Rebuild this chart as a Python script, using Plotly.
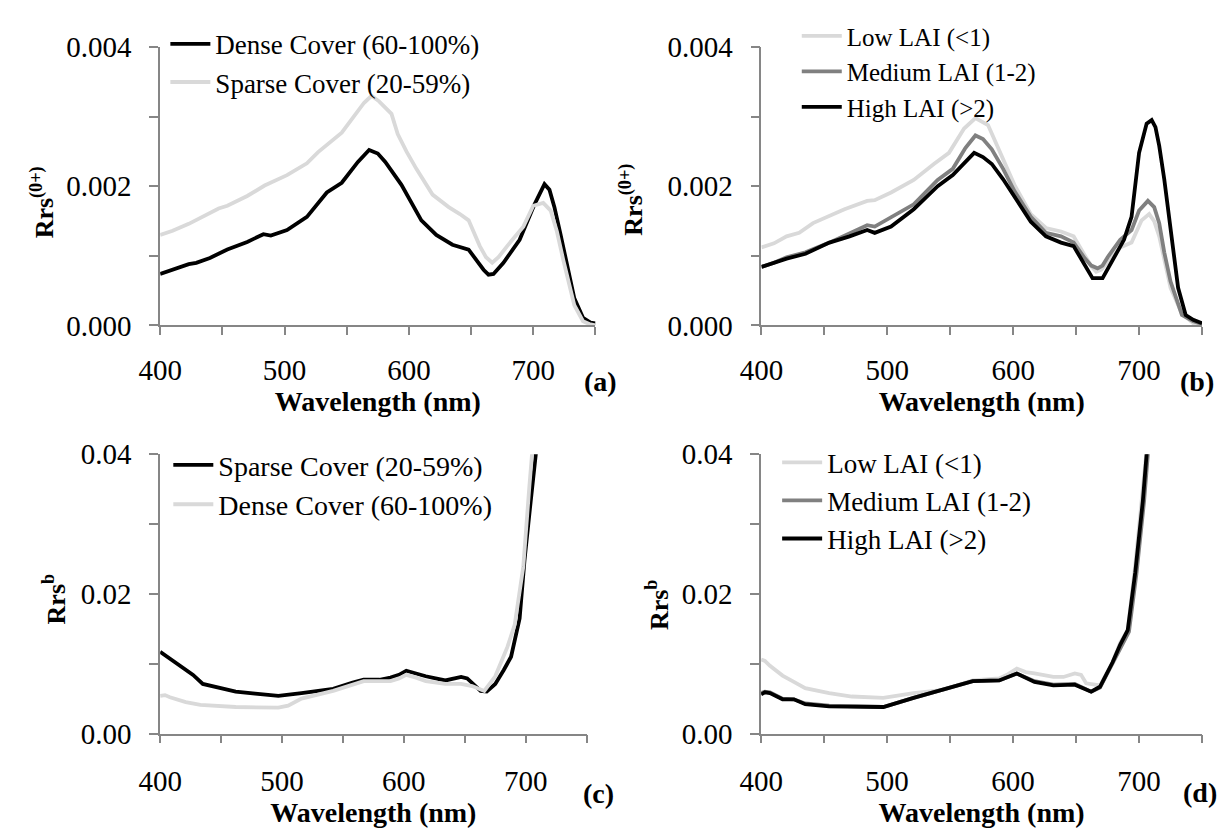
import plotly.graph_objects as go

# ---------------- data ----------------
# (a) above-water reflectance by vegetation cover (units of 1e-3 sr^-1)
wl_a_dense = [400, 410, 423, 429, 440, 454, 470, 483, 489, 502, 518, 534, 546, 559, 568, 575, 581, 594,
              610, 622, 635, 648, 654, 660, 664, 668, 676, 689, 701, 709, 713, 717, 722, 727, 733, 740, 746, 750]
rrs_a_dense = [0.74, 0.80, 0.88, 0.90, 0.97, 1.09, 1.20, 1.31, 1.29, 1.37, 1.56, 1.91, 2.05, 2.35, 2.52, 2.47, 2.35, 2.02,
               1.51, 1.30, 1.16, 1.09, 0.95, 0.80, 0.73, 0.74, 0.90, 1.23, 1.74, 2.03, 1.95, 1.70, 1.30, 0.86, 0.39, 0.11, 0.04, 0.03]
wl_a_sparse = [400, 410, 423, 440, 447, 454, 470, 484, 502, 518, 527, 546, 556, 564, 570, 576, 586, 591, 598, 606,
               619, 632, 641, 648, 657, 662, 667, 672, 679, 692, 700, 708, 714, 719, 724, 733, 740, 745, 750]
rrs_a_sparse = [1.30, 1.36, 1.46, 1.62, 1.68, 1.72, 1.86, 2.01, 2.16, 2.33, 2.49, 2.77, 3.00, 3.20, 3.30, 3.22, 3.04, 2.75, 2.50, 2.25,
                1.88, 1.70, 1.60, 1.51, 1.14, 0.98, 0.90, 0.98, 1.14, 1.42, 1.72, 1.76, 1.65, 1.35, 0.95, 0.29, 0.06, 0.02, 0.0]

# (b) above-water reflectance by LAI class (units of 1e-3)
wl_b_low = [400, 410, 420, 430, 441, 454, 466, 484, 490, 503, 521, 537, 549, 561, 570, 580, 592, 601, 614,
            626, 638, 648, 657, 662, 666, 670, 675, 685, 694, 702, 708, 712, 716, 720, 725, 734, 743, 750]
rrs_b_low = [1.12, 1.18, 1.28, 1.33, 1.47, 1.57, 1.67, 1.79, 1.80, 1.91, 2.09, 2.32, 2.48, 2.83, 2.98, 2.88, 2.39, 2.02, 1.60,
             1.40, 1.35, 1.28, 1.00, 0.85, 0.77, 0.80, 0.91, 1.12, 1.19, 1.51, 1.60, 1.50, 1.28, 0.95, 0.54, 0.17, 0.03, 0.0]
wl_b_med = [400, 410, 420, 435, 454, 470, 484, 490, 503, 521, 540, 552, 562, 570, 576, 583, 592, 601, 614,
            626, 638, 648, 657, 662, 667, 671, 675, 685, 694, 700, 707, 712, 716, 720, 725, 734, 743, 750]
rrs_b_med = [0.84, 0.90, 0.98, 1.05, 1.19, 1.32, 1.44, 1.42, 1.56, 1.74, 2.09, 2.25, 2.55, 2.73, 2.68, 2.53, 2.25, 1.93, 1.56,
             1.33, 1.28, 1.19, 0.96, 0.86, 0.82, 0.86, 0.98, 1.23, 1.37, 1.65, 1.79, 1.70, 1.47, 1.05, 0.63, 0.15, 0.06, 0.02]
wl_b_high = [400, 410, 420, 435, 454, 470, 484, 490, 503, 521, 540, 552, 562, 569, 576, 583, 592, 601, 614,
             626, 638, 648, 657, 663, 671, 678, 688, 694, 700, 706, 710, 713, 716, 720, 725, 731, 737, 743, 750]
rrs_b_high = [0.84, 0.90, 0.96, 1.03, 1.19, 1.28, 1.37, 1.33, 1.42, 1.67, 2.00, 2.16, 2.35, 2.48, 2.42, 2.32, 2.10, 1.84, 1.49,
              1.28, 1.19, 1.14, 0.86, 0.68, 0.68, 0.91, 1.23, 1.56, 2.48, 2.90, 2.95, 2.85, 2.58, 2.10, 1.42, 0.54, 0.15, 0.08, 0.03]

# (c) bottom reflectance by vegetation cover (units of 1e-2)
wl_c_sparse = [400, 404, 408, 417, 427, 435, 446, 462, 478, 497, 516, 542, 558, 567, 580, 589, 596, 602, 610, 618,
               634, 641, 647, 652, 656, 663, 668, 675, 682, 688, 695, 699, 704, 708, 712]
rrs_c_sparse = [1.17, 1.12, 1.07, 0.96, 0.84, 0.71, 0.66, 0.60, 0.57, 0.54, 0.58, 0.64, 0.73, 0.77, 0.77, 0.80, 0.84, 0.90, 0.86, 0.82,
                0.76, 0.78, 0.81, 0.79, 0.73, 0.61, 0.60, 0.71, 0.91, 1.10, 1.65, 2.48, 3.31, 4.0, 4.6]
wl_c_dense = [400, 404, 408, 421, 433, 462, 497, 505, 516, 542, 567, 589, 596, 602, 610, 618, 634, 647, 656, 666,
              675, 685, 691, 698, 703, 705, 708]
rrs_c_dense = [0.54, 0.55, 0.52, 0.45, 0.41, 0.38, 0.37, 0.40, 0.50, 0.61, 0.75, 0.75, 0.79, 0.84, 0.80, 0.75, 0.71, 0.71, 0.68, 0.61,
               0.82, 1.24, 1.56, 2.39, 3.54, 4.0, 4.6]

# (d) bottom reflectance by LAI class (units of 1e-2)
wl_d_low = [400, 403, 407, 417, 426, 435, 454, 472, 497, 521, 543, 568, 589, 596, 603, 610, 617, 632, 640, 649,
            654, 658, 669, 679, 685, 691, 697, 702, 706, 709]
rrs_d_low = [1.06, 1.04, 0.97, 0.83, 0.74, 0.65, 0.58, 0.53, 0.51, 0.58, 0.62, 0.76, 0.79, 0.85, 0.93, 0.88, 0.86, 0.81, 0.81, 0.86,
             0.84, 0.72, 0.69, 1.02, 1.30, 1.48, 2.41, 3.33, 4.0, 4.6]
wl_d_med = [400, 403, 407, 417, 426, 435, 454, 472, 497, 521, 543, 568, 589, 603, 617, 632, 649, 655, 662, 669,
            679, 686, 692, 698, 704, 707, 710]
rrs_d_med = [0.58, 0.60, 0.59, 0.50, 0.49, 0.43, 0.40, 0.39, 0.38, 0.51, 0.62, 0.75, 0.76, 0.86, 0.75, 0.70, 0.71, 0.66, 0.60, 0.66,
             1.00, 1.25, 1.46, 2.30, 3.33, 4.0, 4.6]
wl_d_high = [400, 403, 407, 417, 426, 435, 454, 472, 497, 521, 543, 568, 589, 603, 617, 632, 649, 655, 662, 669,
             679, 685, 691, 697, 703, 706, 709]
rrs_d_high = [0.56, 0.59, 0.58, 0.49, 0.49, 0.42, 0.39, 0.39, 0.38, 0.51, 0.62, 0.75, 0.76, 0.86, 0.74, 0.69, 0.70, 0.66, 0.60, 0.67,
              1.02, 1.27, 1.48, 2.31, 3.33, 4.0, 4.6]

X_TITLE = "Wavelength (nm)"
Y_TITLE_TOP = "Rrs<sup>(0+)</sup>"
Y_TITLE_BOT = "Rrs<sup>b</sup>"
PANEL_TAGS = ["(a)", "(b)", "(c)", "(d)"]

# ---------------- styling ----------------
FONT = "Liberation Serif, Times New Roman, serif"
W, H = 1220, 838
LIGHT, MID, DARK = "#d9d9d9", "#808080", "#000000"
LW = 3.8
AXIS_COL = "#868686"


def px_x(p):
    return p / W


def px_y(p):
    return 1 - p / H


fig = go.Figure()


def add_line(x, y, scale, color, name, xa, ya, legend, group):
    fig.add_trace(go.Scatter(
        x=x, y=[v * scale for v in y], mode="lines", name=name,
        line=dict(color=color, width=LW), xaxis=xa, yaxis=ya,
        legend=legend, legendgroup=group, hoverinfo="skip"))


add_line(wl_a_dense, rrs_a_dense, 1e-3, DARK, "Dense Cover (60-100%)", "x", "y", "legend", "a1")
add_line(wl_a_sparse, rrs_a_sparse, 1e-3, LIGHT, "Sparse Cover (20-59%)", "x", "y", "legend", "a2")
add_line(wl_b_low, rrs_b_low, 1e-3, LIGHT, "Low LAI (<1)", "x2", "y2", "legend2", "b1")
add_line(wl_b_med, rrs_b_med, 1e-3, MID, "Medium LAI (1-2)", "x2", "y2", "legend2", "b2")
add_line(wl_b_high, rrs_b_high, 1e-3, DARK, "High LAI (>2)", "x2", "y2", "legend2", "b3")
add_line(wl_c_sparse, rrs_c_sparse, 1e-2, DARK, "Sparse Cover (20-59%)", "x3", "y3", "legend3", "c1")
add_line(wl_c_dense, rrs_c_dense, 1e-2, LIGHT, "Dense Cover (60-100%)", "x3", "y3", "legend3", "c2")
add_line(wl_d_low, rrs_d_low, 1e-2, LIGHT, "Low LAI (<1)", "x4", "y4", "legend4", "d1")
add_line(wl_d_med, rrs_d_med, 1e-2, MID, "Medium LAI (1-2)", "x4", "y4", "legend4", "d2")
add_line(wl_d_high, rrs_d_high, 1e-2, DARK, "High LAI (>2)", "x4", "y4", "legend4", "d3")

TICKFONT = dict(family=FONT, size=29, color="black")
TICKSTYLE = dict(ticks="outside", tickwidth=1.5, tickcolor=AXIS_COL)
BOLD28 = dict(family=FONT, size=28, color="black", weight="bold")
BOLD26 = dict(family=FONT, size=26, color="black", weight="bold")


def xaxis(domain, anchor, label_gap, title_gap):
    return dict(domain=domain, anchor=anchor, range=[400, 750], tick0=400, dtick=100,
                ticklen=8, **TICKSTYLE,
                minor=dict(dtick=50, ticklen=8, **TICKSTYLE),
                showline=True, linecolor=AXIS_COL, linewidth=1.5, showgrid=False, zeroline=False,
                tickfont=TICKFONT, ticklabelstandoff=label_gap,
                title=dict(text=X_TITLE, font=BOLD28, standoff=title_gap))


def yaxis(domain, anchor, top, fmt):
    return dict(domain=domain, anchor=anchor, range=[0, top], tick0=0, dtick=top / 2, tickformat=fmt,
                ticklen=9, **TICKSTYLE,
                minor=dict(dtick=top / 4, ticklen=9, **TICKSTYLE),
                showline=True, linecolor=AXIS_COL, linewidth=1.5, showgrid=False, zeroline=False,
                tickfont=TICKFONT, ticklabelstandoff=12)


top_dom = [px_y(321.7), px_y(32.3)]
bot_dom = [px_y(746), px_y(455.7)]


def legend(x, y, size, gap=0):
    return dict(x=x, y=y, xanchor="left", yanchor="top", bgcolor="rgba(0,0,0,0)",
                font=dict(family=FONT, size=size, color="black"),
                itemwidth=40, tracegroupgap=gap, traceorder="normal")


fig.update_layout(
    width=W, height=H, margin=dict(l=0, r=0, t=0, b=0),
    paper_bgcolor="white", plot_bgcolor="white",
    xaxis=xaxis([px_x(140.7), px_x(584)], "y", 10, 2),
    yaxis=yaxis(top_dom, "x", 0.004, ".3f"),
    xaxis2=xaxis([px_x(753), px_x(1201.7)], "y2", 10, 2),
    yaxis2=yaxis(top_dom, "x2", 0.004, ".3f"),
    xaxis3=xaxis([px_x(140.7), px_x(575)], "y3", 13, 6),
    yaxis3=yaxis(bot_dom, "x3", 0.04, ".2f"),
    xaxis4=xaxis([px_x(752.7), px_x(1201.7)], "y4", 13, 6),
    yaxis4=yaxis(bot_dom, "x4", 0.04, ".2f"),
    legend=legend(px_x(146), px_y(4), 27),
    legend2=legend(px_x(789), px_y(-3), 25),
    legend3=legend(px_x(149), px_y(441), 28, gap=7),
    legend4=legend(px_x(769), px_y(439), 27),
    showlegend=True,
)

# rotated y titles: right edge of each box is placed just past the text baseline
y_titles = [(Y_TITLE_TOP, 40, 194), (Y_TITLE_TOP, 640, 191), (Y_TITLE_BOT, 52, 606), (Y_TITLE_BOT, 666, 612)]
# panel tags sit just right of each x axis, below its end
tag_pos = [(589, 380), (1197, 380), (587, 808), (1200, 807)]

annotations = [
    dict(x=px_x(tx), y=px_y(ty), text=t, textangle=-90, xanchor="right", yanchor="middle",
         xref="paper", yref="paper", showarrow=False, font=BOLD26)
    for t, tx, ty in y_titles
] + [
    dict(x=px_x(tx), y=px_y(ty), text=tag, xanchor="center", yanchor="middle",
         xref="paper", yref="paper", showarrow=False, font=BOLD28)
    for tag, (tx, ty) in zip(PANEL_TAGS, tag_pos)
]
fig.update_layout(annotations=annotations)

fig.write_html("out.html")
